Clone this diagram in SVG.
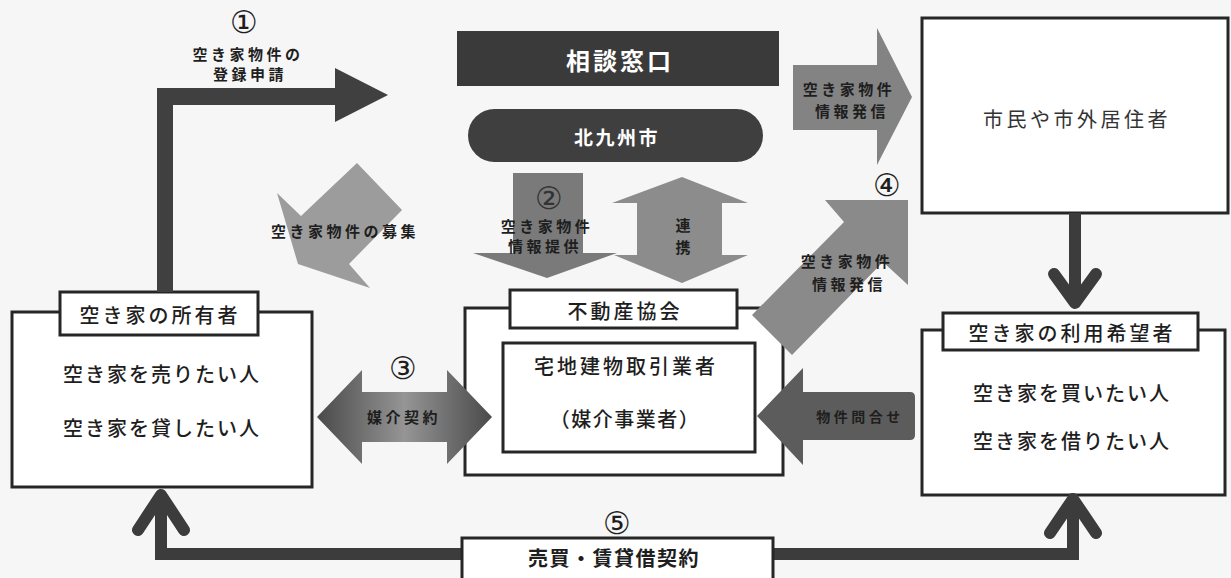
<svg xmlns="http://www.w3.org/2000/svg" width="1231" height="578" viewBox="0 0 1231 578">
<style>
text{font-family:"Noto Sans CJK JP","Noto Sans",sans-serif;fill:#1e1e1e;text-anchor:middle;dominant-baseline:central}
.box{fill:#fff;stroke:#262626;stroke-width:3}
.lbl{font-size:15px;font-weight:bold;letter-spacing:3.5px}
.big{font-size:20px;letter-spacing:3px;font-weight:500}
.num{font-family:"DejaVu Sans",sans-serif;font-size:31px}
.white{fill:#fff;font-weight:bold}
.line{fill:none;stroke:#3c3c3c;stroke-width:12;stroke-linejoin:miter}
.chev{fill:none;stroke:#3c3c3c;stroke-width:12;stroke-linecap:round;stroke-linejoin:round}
</style>
<defs>
<linearGradient id="g3" x1="317" y1="0" x2="492" y2="0" gradientUnits="userSpaceOnUse">
<stop offset="0" stop-color="#4a4a4a"/><stop offset="0.5" stop-color="#959595"/><stop offset="1" stop-color="#4a4a4a"/>
</linearGradient>
</defs>
<rect width="1231" height="578" fill="#f6f6f6"/>

<g id="consult">
<rect x="457" y="31" width="322" height="55" fill="#3a3a3a"/>
<text x="620" y="59" class="white" style="font-size:24px;letter-spacing:3px">相談窓口</text>
</g>
<g id="city">
<rect x="468" y="109" width="295" height="53" rx="26.5" fill="#3f3f3f"/>
<text x="617" y="136" class="white" style="font-size:19px;letter-spacing:2.5px">北九州市</text>
</g>
<g id="citizens">
<rect x="922" y="18" width="306" height="195" class="box"/>
<text x="1077" y="118" style="font-size:20px;letter-spacing:3.5px;fill:#333">市民や市外居住者</text>
</g>
<g id="owner">
<rect x="12" y="312" width="300" height="175" class="box"/>
<rect x="60" y="292" width="198" height="43" class="box"/>
<text x="160" y="314" class="big">空き家の所有者</text>
<text x="162" y="373" class="big" style="letter-spacing:2px">空き家を売りたい人</text>
<text x="162" y="427" class="big" style="letter-spacing:2px">空き家を貸したい人</text>
</g>
<g id="realty">
<rect x="465" y="308" width="318" height="167" class="box"/>
<rect x="510" y="290" width="227" height="38" class="box"/>
<text x="625" y="310" class="big">不動産協会</text>
<rect x="503" y="343" width="252" height="109" class="box"/>
<text x="626" y="365" class="big">宅地建物取引業者</text>
<text x="625" y="418" class="big" style="letter-spacing:1.5px">（媒介事業者）</text>
</g>
<g id="users">
<rect x="922" y="330" width="303" height="165" class="box"/>
<rect x="943" y="313" width="255" height="37" class="box"/>
<text x="1072" y="332" class="big">空き家の利用希望者</text>
<text x="1072" y="392" class="big" style="letter-spacing:2px">空き家を買いたい人</text>
<text x="1072" y="440" class="big" style="letter-spacing:2px">空き家を借りたい人</text>
</g>

<g id="connectors">
<!-- 1 registration -->
<polygon points="157,88 335,88 335,68 388,95 335,122 335,105 173,105 173,292 157,292" fill="#404040"/>
<text x="244" y="22" class="num">①</text>
<text x="248" y="53" class="lbl">空き家物件の</text>
<text x="250" y="73" class="lbl">登録申請</text>
<!-- recruitment -->
<polygon points="357,163 402,210 349,264 370,288 298,264 277,193 301,216" fill="#9c9c9c"/>
<text x="345" y="230" class="lbl">空き家物件の募集</text>
<!-- 2 info -->
<polygon points="513,173 583,173 583,253 617,253 547,278 473,253 513,253" fill="#7a7a7a"/>
<text x="549" y="198" class="num" style="fill:#333">②</text>
<text x="547" y="225" class="lbl">空き家物件</text>
<text x="545" y="245" class="lbl">情報提供</text>
<!-- cooperation -->
<polygon points="682,177 748,203 722,203 722,255 748,255 682,283 614,255 637,255 637,203 612,203" fill="#8c8c8c"/>
<text x="683" y="224" class="lbl" style="letter-spacing:0">連</text>
<text x="683" y="246" class="lbl" style="letter-spacing:0">携</text>
<!-- 4 top -->
<polygon points="793,65 877,65 877,28 912,97 877,165 877,130 793,130" fill="#838383"/>
<text x="849" y="88" class="lbl">空き家物件</text>
<text x="852" y="110" class="lbl">情報発信</text>
<text x="887" y="185" class="num">④</text>
<!-- 4 bottom -->
<polygon points="908,200 908,285 883,262 792,355 752,315 844,222 825,200" fill="#8a8a8a"/>
<text x="847" y="260" class="lbl">空き家物件</text>
<text x="849" y="283" class="lbl">情報発信</text>
<!-- citizens to users -->
<path d="M1075,213 V300" class="line"/>
<polyline points="1054,274 1075,303 1096,274" class="chev"/>
<!-- 3 brokerage -->
<polygon points="317,417 362,370 362,392 447,392 447,370 492,417 447,464 447,442 362,442 362,464" fill="url(#g3)"/>
<text x="403" y="368" class="num">③</text>
<text x="404" y="416" class="lbl">媒介契約</text>
<!-- inquiry -->
<path d="M757,416 L803,368 V392 H910 Q915,392 915,397 V435 Q915,440 910,440 H803 V465 Z" fill="#5c5c5c"/>
<text x="860" y="416" class="lbl" style="font-size:14px">物件問合せ</text>
<!-- 5 contract -->
<path d="M462,554 H161 V494" class="line"/>
<polyline points="138,530 161,495 184,530" class="chev"/>
<path d="M773,554 H1073 V500" class="line"/>
<polyline points="1050,533 1073,499 1096,533" class="chev"/>
<text x="617" y="523" class="num">⑤</text>
</g>
<g id="contract">
<rect x="462" y="538" width="311" height="44" class="box"/>
<text x="614" y="557" class="big" style="font-weight:bold;letter-spacing:1.5px">売買・賃貸借契約</text>
</g>
</svg>
